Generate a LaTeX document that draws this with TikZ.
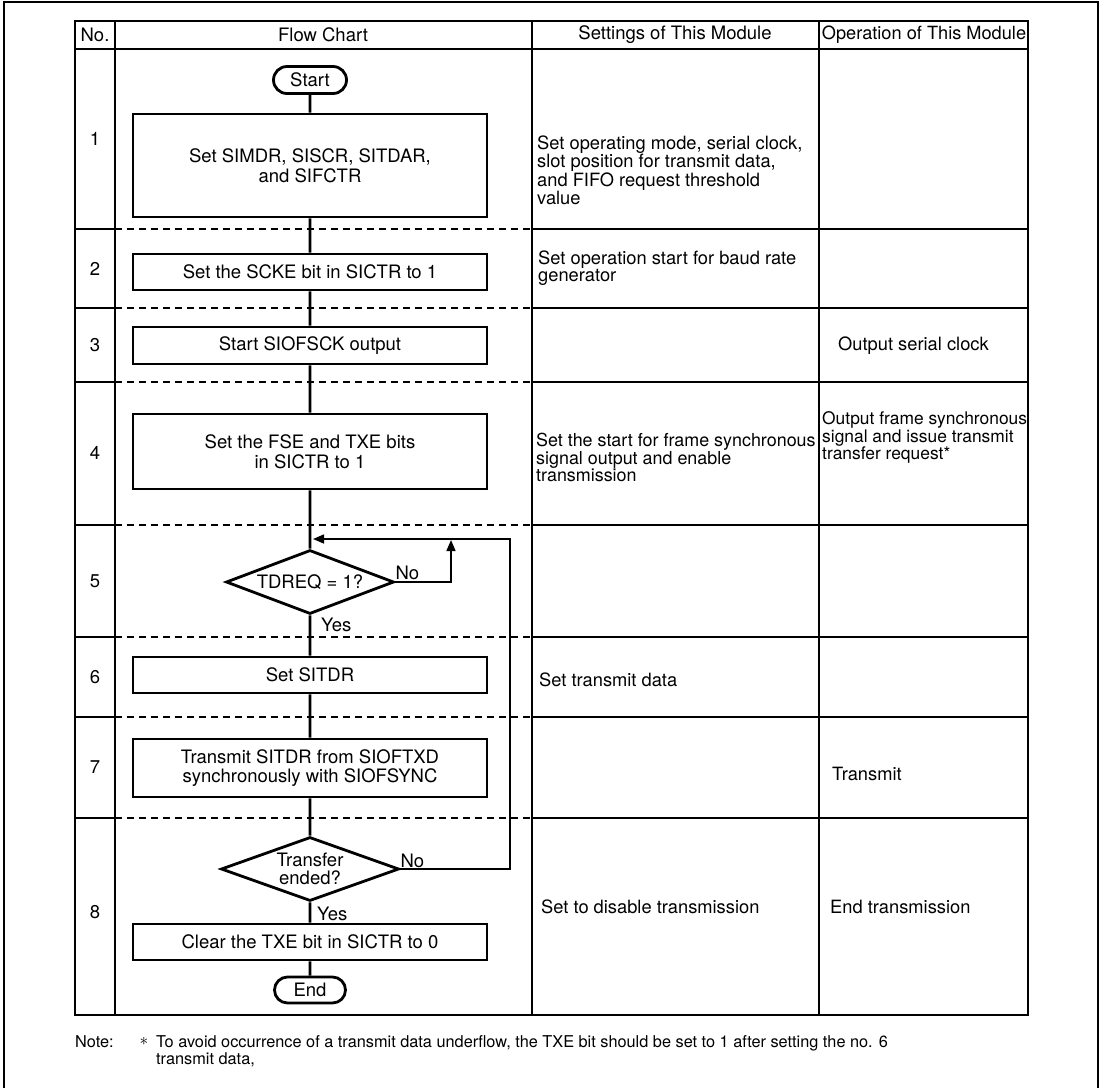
\documentclass[tikz,border=0pt]{standalone}
\usepackage{fontspec}
\setmainfont{TeX Gyre Heros}
\usetikzlibrary{shapes.geometric,shapes.misc,arrows.meta}
\begin{document}
\begin{tikzpicture}[x = 1pt, y = -1pt,
	every node/.style = {inner sep = 0pt, font = \fontsize{18.5}{19.5}\selectfont},
	box/.style = {draw, line width = 2.8pt, minimum width = 354pt, align = center},
	term/.style = {draw, line width = 2.8pt, rounded rectangle, minimum height = 27pt},
	dec/.style = {draw, diamond, line width = 2.8pt, align = center, minimum height = 64pt},
	flow/.style = {line width = 2.8pt},
	back/.style = {line width = 1.5pt, -{Triangle[length = 11pt, width = 9pt]}},
	cell/.style = {line width = 1.5pt},
	txt/.style = {anchor = west, align = left, font = \fontsize{18.3}{15.5}\selectfont},
	small/.style = {font = \fontsize{17.4}{15.5}\selectfont},
	note/.style = {font = \fontsize{16.3}{17}\selectfont}]
	\useasboundingbox (0,0) rectangle (1101,1088);
	\draw [line width = 2.8pt] (4,1088) -- (4,2) -- (1098,2) -- (1098,1088);
	\draw [line width = 2.8pt] (75,21) rectangle (1028,1015);
	\draw [line width = 1.8pt] (75,49) -- (1028,49);
	\foreach \x in {115,532,819}{
	\draw [cell] (\x,21) -- (\x,1015);
	}
	\foreach \y in {229,308,382,525,637,717,818}{
	\draw [cell] (75,\y) -- (115,\y);
	\draw [cell, dash pattern = on 7pt off 5pt] (115,\y) -- (532,\y);
	\draw [cell] (532,\y) -- (1028,\y);
	}
	\node (hno) at (95,35) {No.};
	\node (hflow) at (323,35) {Flow Chart};
	\node (hset) at (675,35) {Settings of This Module};
	\node [font = \fontsize{18.2}{19}\selectfont] (hop) at (924,35) {Operation of This Module};
	\foreach \n/\y in {1/139,2/269,3/345,4/453,5/581,6/677,7/767,8/912}{
	\node (num\n) at (95,\y) {\n};
	}
	\node [term, minimum width = 73pt] (start) at (310,80) {Start};
	\node [box, minimum height = 103pt] (regs) at (310,165.5) {Set SIMDR, SISCR, SITDAR,\\and SIFCTR};
	\node [box, minimum height = 36pt] (scke) at (310,272) {Set the SCKE bit in SICTR to 1};
	\node [box, minimum height = 37pt] (sck) at (310,345.5) {Start SIOFSCK output};
	\node [box, minimum height = 75pt] (fse) at (310,451.5) {Set the FSE and TXE bits\\in SICTR to 1};
	\node [dec, minimum width = 168pt, aspect = 2.6] (tdreq) at (310,582) {TDREQ = 1?};
	\node [box, minimum height = 36pt] (sitdr) at (310,675) {Set SITDR};
	\node [box, minimum height = 58pt] (txd) at (310,768) {Transmit SITDR from SIOFTXD\\synchronously with SIOFSYNC};
	\node [dec, minimum width = 178pt, aspect = 2.8, font = \fontsize{18.5}{18}\selectfont] (ended) at (310,869) {Transfer\\ended?};
	\node [box, minimum height = 36pt] (txe) at (310,942) {Clear the TXE bit in SICTR to 0};
	\node [term, minimum width = 71pt, minimum height = 26pt] (end) at (310,990) {End};
	\draw [flow] (start) -- (regs) -- (scke) -- (sck) -- (fse) -- (tdreq) -- (sitdr) -- (txd) -- (ended) -- (txe) -- (end);
	\node [anchor = base west] (no1) at ([yshift = 3pt]tdreq.east) {No};
	\node [anchor = north west] (yes1) at ([xshift = 11pt, yshift = -2pt]tdreq.south) {Yes};
	\node [anchor = base west] (no2) at ([yshift = 1.5pt]ended.east) {No};
	\node [anchor = north west] (yes2) at ([xshift = 7pt, yshift = -4.5pt]ended.south) {Yes};
	\coordinate (noup) at (451,540);
	\coordinate (loopr) at (510,539);
	\coordinate (loopin) at (313,539);
	\draw [back] (tdreq.east) -| (noup);
	\draw [back] (ended.east) -| (loopr) -- (loopin);
	\node [txt] (s1) at (537,170) {Set operating mode, serial clock,\\slot position for transmit data,\\and FIFO request threshold\\value};
	\node [txt] (s2) at (538,268) {Set operation start for baud rate\\generator};
	\node [txt, font = \fontsize{17.9}{15.5}\selectfont] (s4) at (536,457.5) {Set the start for frame synchronous\\signal output and enable\\transmission};
	\node [txt] (s6) at (539,680) {Set transmit data};
	\node [txt] (s8) at (541,907) {Set to disable transmission};
	\node [txt] (o3) at (838,346) {Output serial clock};
	\node [txt, small] (o4) at (822,437.5) {Output frame synchronous\\signal and issue transmit\\transfer request*};
	\node [txt] (o7) at (832,774) {Transmit};
	\node [txt] (o8) at (830,907) {End transmission};
	\node [note, anchor = north west] (notehd) at (75,1035) {Note:};
	\node [note] (notestar) at (144,1041) {$\ast$};
	\node [note, anchor = north west, align = left] (notetxt) at (156,1035) {To avoid occurrence of a transmit data underflow, the TXE bit should be set to 1 after setting the no. 6\\transmit data,};
\end{tikzpicture}
\end{document}
